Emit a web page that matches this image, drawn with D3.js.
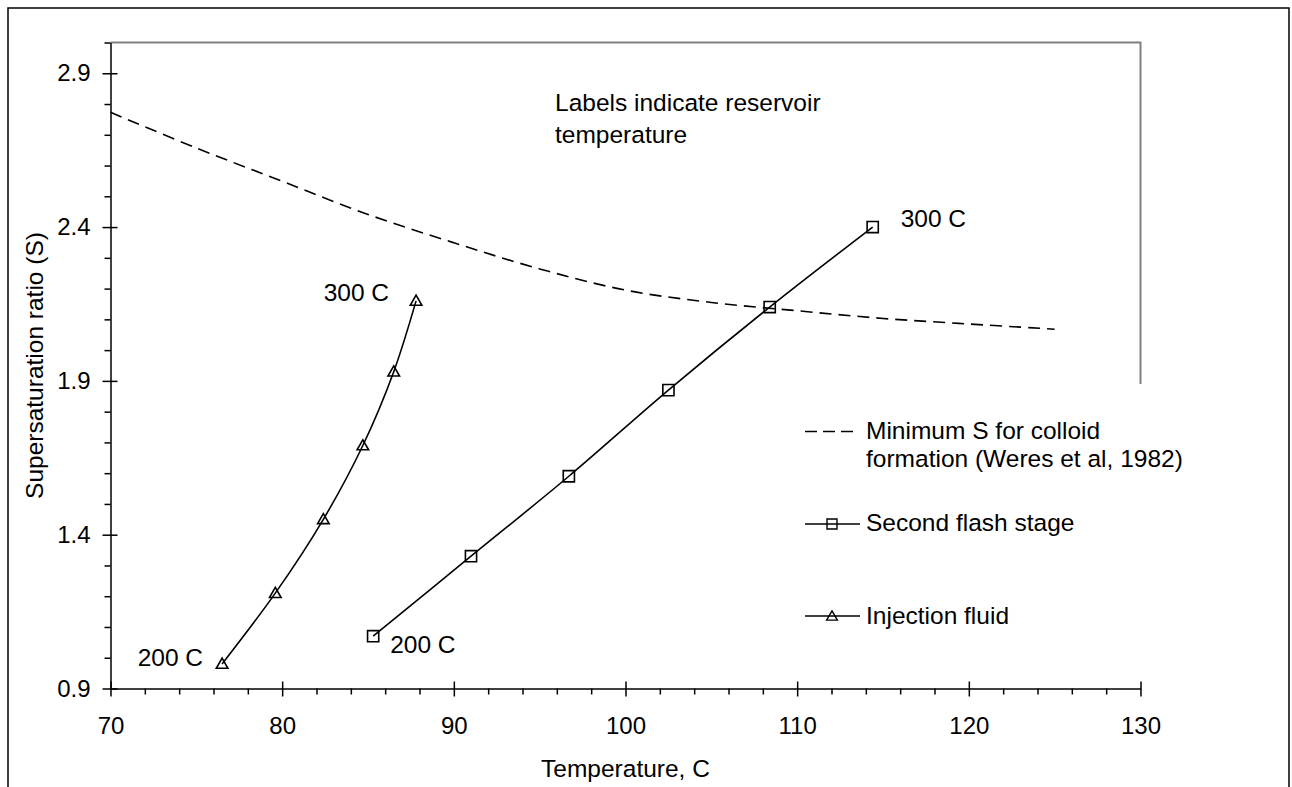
<!DOCTYPE html>
<html>
<head>
<meta charset="utf-8">
<script src="https://cdn.jsdelivr.net/npm/d3@7"></script>
<style>
  body { margin: 0; background: #fff; }
  svg text { font-family: "Liberation Sans", Arial, sans-serif; font-size: 24.5px; fill: #000; }
</style>
</head>
<body>
<div id="chart"></div>
<script>
// Data
const injectionTemp = [76.5, 79.6, 82.4, 84.7, 86.5, 87.8];
const injectionS    = [0.98, 1.21, 1.45, 1.69, 1.93, 2.16];

const flashTemp = [85.3, 91.0, 96.7, 102.5, 108.4, 114.4];
const flashS    = [1.07, 1.33, 1.59, 1.87, 2.14, 2.40];

const minTemp = [70, 75, 80, 85, 90, 95, 100, 105, 110, 115, 120, 125];
const minS    = [2.773, 2.657, 2.549, 2.441, 2.349, 2.264, 2.195, 2.155, 2.128, 2.103, 2.085, 2.068];

const xMajor = [70, 80, 90, 100, 110, 120, 130];
const yMajor = [0.9, 1.4, 1.9, 2.4, 2.9];

const legendLabels = [
  ["Minimum S for colloid", "formation (Weres et al, 1982)"],
  ["Second flash stage"],
  ["Injection fluid"]
];

const width = 1292, height = 787;

const svg = d3.select("#chart").append("svg")
  .attr("width", width)
  .attr("height", height);

// outer frame (bottom edge falls outside the picture)
svg.append("rect")
  .attr("x", 8).attr("y", 8)
  .attr("width", 1281).attr("height", 800)
  .attr("fill", "none")
  .attr("stroke", "#000")
  .attr("stroke-width", 1.5);

// scales
const x = d3.scaleLinear().domain([70, 130]).range([110.5, 1140.5]);
const y = d3.scaleLinear().domain([0.9, 3.0]).range([688.5, 42.5]);

// plot area top / right border (grey)
svg.append("path")
  .attr("d", `M${x(70)},${y(3.0)}H${x(130)}V${y(0.9)}`)
  .attr("fill", "none")
  .attr("stroke", "#808080")
  .attr("stroke-width", 2);

/////////
// Series
/////////
const line = d3.line()
  .x(d => x(d[0]))
  .y(d => y(d[1]))
  .curve(d3.curveCatmullRom.alpha(0.5));

const minPts = minTemp.map((t, i) => [t, minS[i]]);
const flashPts = flashTemp.map((t, i) => [t, flashS[i]]);
const injPts = injectionTemp.map((t, i) => [t, injectionS[i]]);

svg.append("path")
  .attr("d", line(minPts))
  .attr("fill", "none")
  .attr("stroke", "#000")
  .attr("stroke-width", 1.6)
  .attr("stroke-dasharray", "12,7");

svg.append("path")
  .attr("d", line(flashPts))
  .attr("fill", "none")
  .attr("stroke", "#000")
  .attr("stroke-width", 1.6);

svg.append("path")
  .attr("d", line(injPts))
  .attr("fill", "none")
  .attr("stroke", "#000")
  .attr("stroke-width", 1.6);

const square = d3.symbol().type(d3.symbolSquare).size(125);
const triangle = d3.symbol().type(d3.symbolTriangle).size(58);

svg.selectAll("path.sq")
  .data(flashPts)
  .join("path")
  .attr("class", "sq")
  .attr("d", square)
  .attr("transform", d => `translate(${x(d[0])}, ${y(d[1])})`)
  .attr("fill", "none")
  .attr("stroke", "#000")
  .attr("stroke-width", 1.6);

svg.selectAll("path.tri")
  .data(injPts)
  .join("path")
  .attr("class", "tri")
  .attr("d", triangle)
  .attr("transform", d => `translate(${x(d[0])}, ${y(d[1]) + 1})`)
  .attr("fill", "none")
  .attr("stroke", "#000")
  .attr("stroke-width", 1.6);

// point labels
const injFirst = injPts[0], injLast = injPts[injPts.length - 1];
const flFirst = flashPts[0], flLast = flashPts[flashPts.length - 1];

svg.append("text").attr("text-anchor", "end")
  .attr("x", x(injLast[0]) - 27).attr("y", y(injLast[1]))
  .text("300 C");
svg.append("text").attr("text-anchor", "end")
  .attr("x", x(injFirst[0]) - 19).attr("y", y(injFirst[1]) + 2)
  .text("200 C");
svg.append("text")
  .attr("x", x(flFirst[0]) + 17).attr("y", y(flFirst[1]) + 17)
  .text("200 C");
svg.append("text")
  .attr("x", x(flLast[0]) + 28).attr("y", y(flLast[1]))
  .text("300 C");

const note = svg.append("text").attr("x", 555).attr("y", 111);
note.append("tspan").attr("x", 555).text("Labels indicate reservoir");
note.append("tspan").attr("x", 555).attr("dy", 32).text("temperature");

/////////
// Legend (white box hides the right border behind it)
/////////
const legend = svg.append("g");
legend.append("rect")
  .attr("x", 790).attr("y", 384)
  .attr("width", 370).attr("height", 304)
  .attr("fill", "#fff");

const legendY = [431.5, 524, 616];
const textY = [439, 531, 624];

legendLabels.forEach((lines, i) => {
  const g = legend.append("g");
  g.append("line")
    .attr("x1", 805).attr("x2", i === 0 ? 853 : 860)
    .attr("y1", legendY[i]).attr("y2", legendY[i])
    .attr("stroke", "#000")
    .attr("stroke-width", 1.6)
    .attr("stroke-dasharray", i === 0 ? "12,6" : null);
  if (i === 1) {
    g.append("path")
      .attr("d", d3.symbol().type(d3.symbolSquare).size(100)())
      .attr("transform", `translate(832, ${legendY[i]})`)
      .attr("fill", "none").attr("stroke", "#000").attr("stroke-width", 1.4);
  }
  if (i === 2) {
    g.append("path")
      .attr("d", d3.symbol().type(d3.symbolTriangle).size(50)())
      .attr("transform", `translate(832, ${legendY[i] + 1})`)
      .attr("fill", "none").attr("stroke", "#000").attr("stroke-width", 1.4);
  }
  const t = g.append("text").attr("x", 866).attr("y", textY[i]);
  lines.forEach((s, j) => {
    t.append("tspan").attr("x", 866).attr("dy", j === 0 ? 0 : 28).text(s);
  });
});

/////////
// X axis
/////////
const xMinor = d3.range(72, 130, 2).filter(v => v % 10 !== 0);

svg.append("g")
  .attr("transform", `translate(0, ${y(0.9)})`)
  .call(d3.axisBottom(x).tickValues(xMinor).tickSize(6).tickFormat(""))
  .call(g => g.select(".domain").remove());

const xAxis = svg.append("g")
  .attr("transform", `translate(0, ${y(0.9)})`)
  .call(d3.axisBottom(x).tickValues(xMajor).tickSizeInner(8).tickSizeOuter(0).tickPadding(20));
xAxis.selectAll(".tick line").attr("y1", -7);

/////////
// Y axis
/////////
const yMinor = d3.range(10, 31).map(v => v / 10)
  .filter(v => !yMajor.some(m => Math.abs(m - v) < 1e-6));

svg.append("g")
  .attr("transform", `translate(${x(70)}, 0)`)
  .call(d3.axisLeft(y).tickValues(yMinor).tickSize(6).tickFormat(""))
  .call(g => g.select(".domain").remove());

const yAxis = svg.append("g")
  .attr("transform", `translate(${x(70)}, 0)`)
  .call(d3.axisLeft(y).tickValues(yMajor).tickSizeInner(8).tickSizeOuter(0)
          .tickPadding(12).tickFormat(d3.format(".1f")));
yAxis.selectAll(".tick line").attr("x1", 7);

svg.selectAll(".domain, .tick line")
  .attr("stroke", "#000")
  .attr("stroke-width", 1.5);
svg.selectAll(".tick text")
  .style("font-family", "\"Liberation Sans\", Arial, sans-serif")
  .style("font-size", "24px")
  .attr("fill", "#000");

// axis titles
svg.append("text")
  .attr("x", (x(70) + x(130)) / 2)
  .attr("y", 777)
  .attr("text-anchor", "middle")
  .text("Temperature, C");

svg.append("text")
  .attr("transform", `translate(43, ${(y(0.9) + y(3.0)) / 2}) rotate(-90)`)
  .attr("text-anchor", "middle")
  .text("Supersaturation ratio (S)");
</script>
</body>
</html>
